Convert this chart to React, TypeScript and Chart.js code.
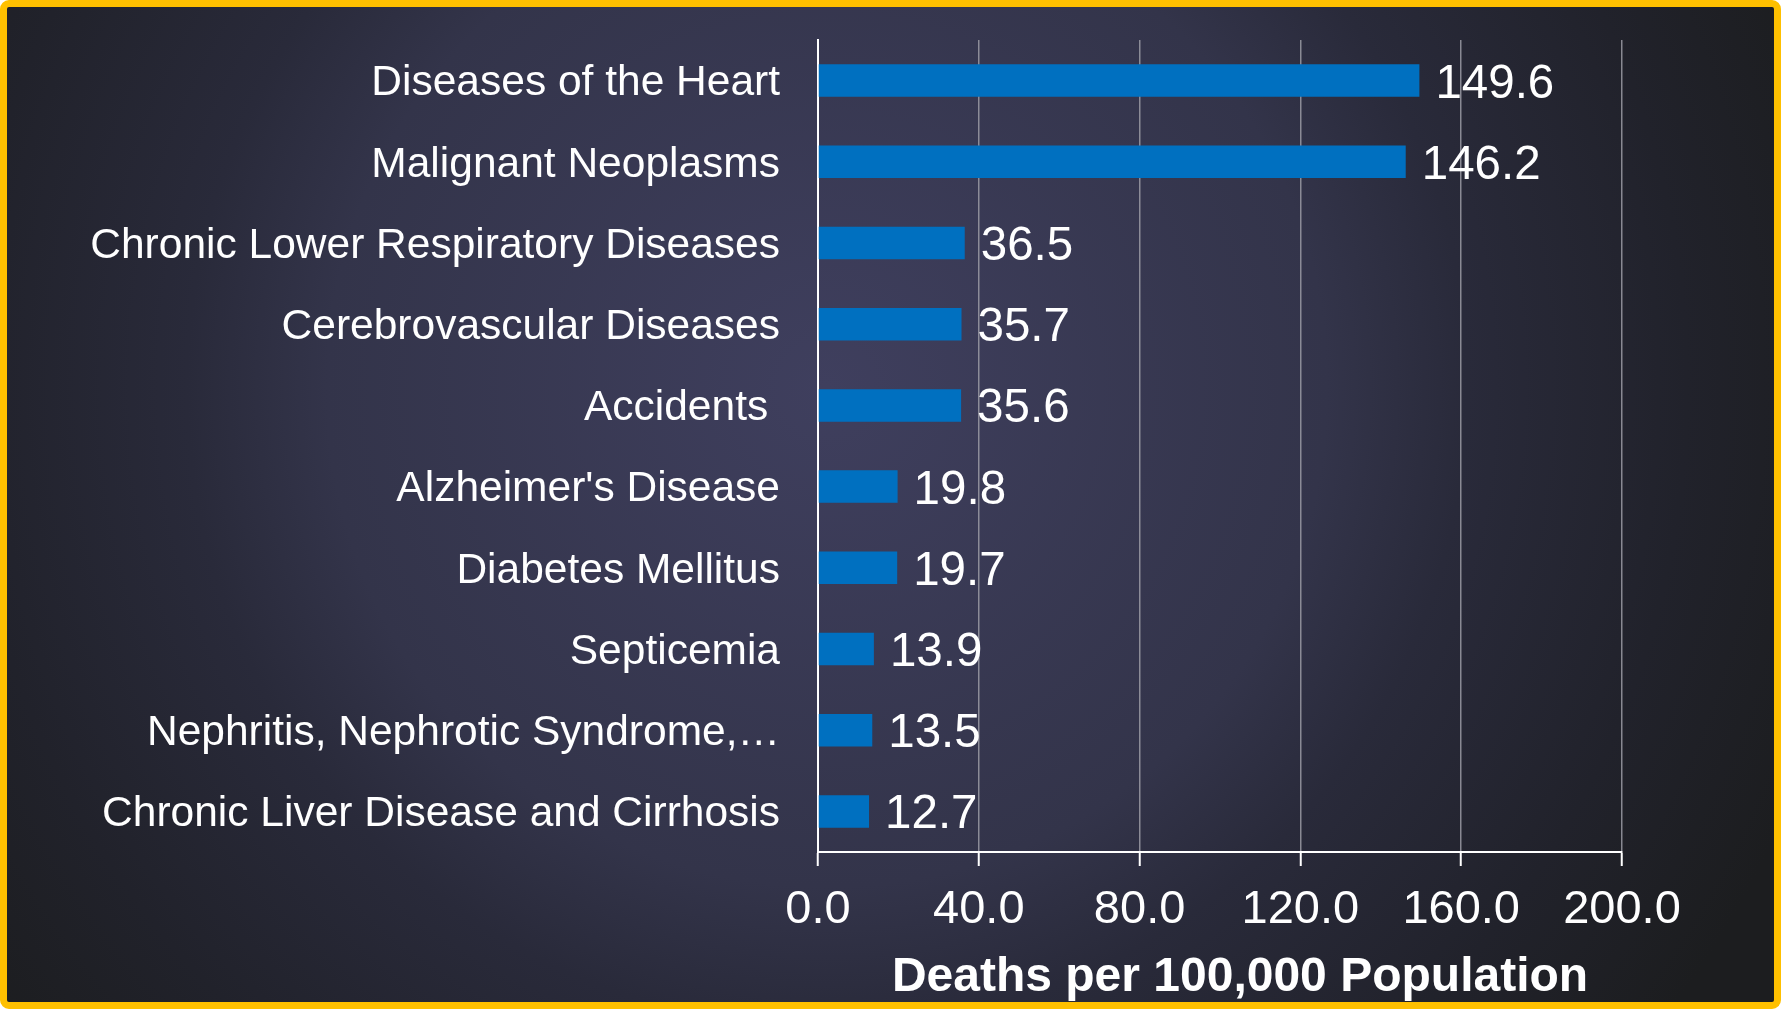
import React, { useEffect, useRef } from "react";
import { Chart, registerables } from "chart.js";

Chart.register(...registerables);

const categories = [
  "Diseases of the Heart",
  "Malignant Neoplasms",
  "Chronic Lower Respiratory Diseases",
  "Cerebrovascular Diseases",
  "Accidents ",
  "Alzheimer's Disease",
  "Diabetes Mellitus",
  "Septicemia",
  "Nephritis, Nephrotic Syndrome,\u2026",
  "Chronic Liver Disease and Cirrhosis",
];
const deathRates = [149.6, 146.2, 36.5, 35.7, 35.6, 19.8, 19.7, 13.9, 13.5, 12.7];
const xTickMin = 0;
const xTickMax = 200;
const xTickStep = 40;
const axisTitle = "   Deaths per 100,000 Population";

const FONT = "'Liberation Sans', Arial, Helvetica, sans-serif";

const valueLabelPlugin = {
  id: "valueLabels",
  afterDatasetsDraw(chart: any) {
    const ctx = chart.ctx;
    const meta = chart.getDatasetMeta(0);
    ctx.save();
    ctx.font = `47.5px ${FONT}`;
    ctx.fillStyle = "#ffffff";
    ctx.textAlign = "left";
    ctx.textBaseline = "middle";
    meta.data.forEach((bar: any, i: number) => {
      const v = chart.data.datasets[0].data[i] as number;
      ctx.fillText(v.toFixed(1), bar.x + 16, bar.y + 4);
    });
    ctx.restore();
  },
};

export default function App() {
  const canvasRef = useRef<HTMLCanvasElement | null>(null);

  useEffect(() => {
    document.body.style.margin = "0";
    const canvas = canvasRef.current;
    if (!canvas) return;
    const chart = new Chart(canvas, {
      type: "bar",
      data: {
        labels: categories,
        datasets: [
          {
            data: deathRates,
            backgroundColor: "#0070C0",
            borderWidth: 0,
            barPercentage: 0.4,
            categoryPercentage: 1,
          },
        ],
      },
      options: {
        indexAxis: "y",
        animation: false,
        responsive: false,
        maintainAspectRatio: false,
        layout: { padding: { top: 40, right: 159, bottom: 0, left: 0 } },
        plugins: {
          legend: { display: false },
          tooltip: { enabled: false },
          title: { display: false },
        },
        scales: {
          x: {
            type: "linear",
            min: xTickMin,
            max: xTickMax,
            ticks: {
              stepSize: xTickStep,
              color: "#ffffff",
              font: { family: FONT, size: 47 },
              padding: 16,
              maxRotation: 0,
              callback: (v: any) => Number(v).toFixed(1),
            },
            grid: {
              display: true,
              color: "rgba(155,155,165,0.85)",
              lineWidth: 1.5,
              drawTicks: true,
              tickLength: 14,
              tickColor: "#ffffff",
              tickWidth: 2,
            },
            border: { display: true, color: "#ffffff", width: 2 },
            title: {
              display: true,
              text: axisTitle,
              color: "#ffffff",
              font: { family: FONT, size: 48, weight: "bold", lineHeight: 1.2 },
              padding: { top: 4, bottom: 2 },
            },
            afterFit: (scale: any) => {
              scale.height = 157;
            },
          },
          y: {
            ticks: {
              color: "#ffffff",
              font: { family: FONT, size: 42.5 },
              padding: 38,
              labelOffset: 3,
              autoSkip: false,
            },
            grid: { display: false, drawTicks: false },
            border: { display: true, color: "#ffffff", width: 2 },
            afterFit: (scale: any) => {
              scale.width = 818;
              scale.paddingTop = 0;
              scale.paddingBottom = 0;
            },
          },
        },
      },
      plugins: [valueLabelPlugin],
    });
    return () => chart.destroy();
  }, []);

  return (
    <div
      style={{
        position: "fixed",
        left: 0,
        top: 0,
        width: 1781,
        height: 1009,
        overflow: "hidden",
      }}
    >
      <div
        style={{
          position: "absolute",
          left: 0,
          top: 0,
          width: 1781,
          height: 1009,
          boxSizing: "border-box",
          border: "7px solid #FFC000",
          borderRadius: 9,
          background:
            "radial-gradient(circle 1060px at 820px 380px, #3f3f5e 0px, #33344a 500px, #292a3a 640px, #21222b 860px, #1c1d1f 1050px)",
        }}
      />
      <canvas
        ref={canvasRef}
        width={1781}
        height={1009}
        style={{ position: "absolute", left: 0, top: 0, width: 1781, height: 1009 }}
      />
    </div>
  );
}
